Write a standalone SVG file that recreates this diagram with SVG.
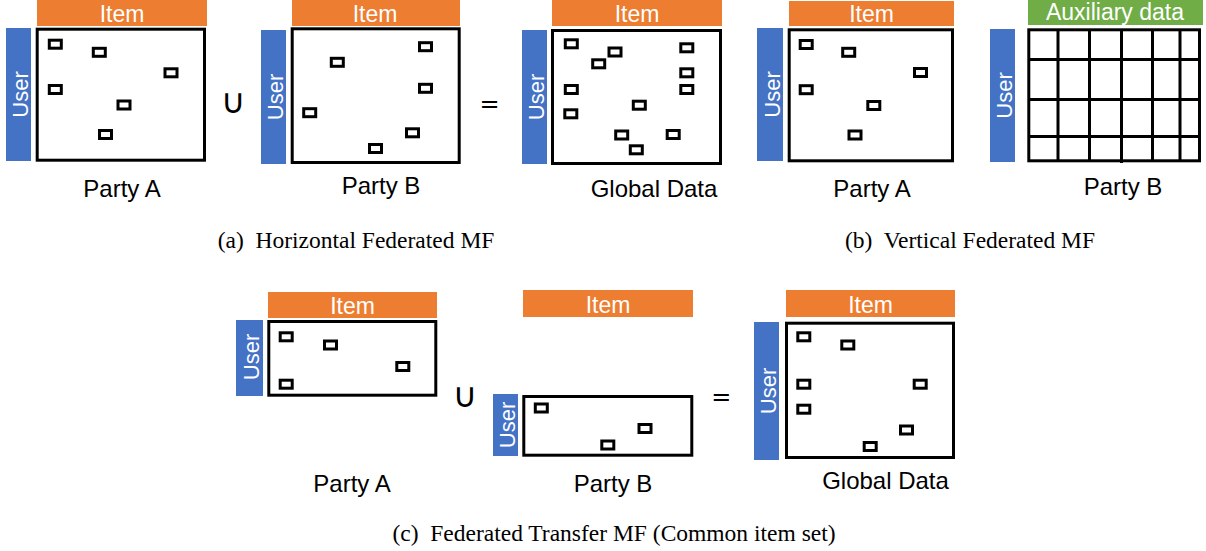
<svg xmlns="http://www.w3.org/2000/svg" width="1206" height="551" viewBox="0 0 1206 551">
<style>
.bg{fill:#ffffff}
.item{fill:#ED7D31}
.aux{fill:#70AD47}
.user{fill:#4472C4}
.box{fill:#ffffff;stroke:#000000;stroke-width:3}
.c{fill:#ffffff;stroke:#000000;stroke-width:3}
.gl{stroke:#000000;stroke-width:3;fill:none}
.wt{font-family:"Liberation Sans",Arial,sans-serif;font-size:23px;fill:#ffffff;text-anchor:middle}
.ut{font-family:"Liberation Sans",Arial,sans-serif;font-size:22px;fill:#ffffff;text-anchor:middle}
.lbl{font-family:"Liberation Sans",Arial,sans-serif;font-size:24px;fill:#000000;text-anchor:middle}
.op{font-family:"DejaVu Sans",sans-serif;font-size:24px;fill:#000000;text-anchor:middle}
.un{font-family:"DejaVu Sans",sans-serif;font-size:34px;fill:#000000;text-anchor:middle}
.cap{font-family:"Liberation Serif","Times New Roman",serif;font-size:23.5px;fill:#000000;text-anchor:middle}
</style>
<defs>
<rect id="cell" width="12" height="8" class="c"/>
</defs>
<rect class="bg" x="0" y="0" width="1206" height="551"/>

<g id="a-partyA">
<rect class="item" x="37" y="0" width="170" height="26"/>
<text class="wt" x="122" y="22">Item</text>
<rect class="user" x="6" y="28" width="25" height="133"/>
<text class="ut" transform="translate(28,94.5) rotate(-90)">User</text>
<rect class="box" x="37.2" y="29.2" width="167.3" height="131"/>
<use href="#cell" x="49.3" y="40.2"/>
<use href="#cell" x="93.3" y="48.3"/>
<use href="#cell" x="165" y="68.8"/>
<use href="#cell" x="49.3" y="85.5"/>
<use href="#cell" x="118" y="101"/>
<use href="#cell" x="99.5" y="130.5"/>
<text class="lbl" x="122" y="197">Party A</text>
</g>

<text class="un" x="233.5" y="113">∪</text>

<g id="a-partyB">
<rect class="item" x="292" y="0" width="168" height="26"/>
<text class="wt" x="375" y="22">Item</text>
<rect class="user" x="261" y="30" width="25" height="134"/>
<text class="ut" transform="translate(283,97) rotate(-90)">User</text>
<rect class="box" x="292.2" y="28.8" width="167" height="133.7"/>
<use href="#cell" x="419.5" y="42.7"/>
<use href="#cell" x="331.3" y="58.3"/>
<use href="#cell" x="419.5" y="84.3"/>
<use href="#cell" x="303.7" y="108.7"/>
<use href="#cell" x="406.5" y="128.8"/>
<use href="#cell" x="369.5" y="144.5"/>
<text class="lbl" x="381" y="194">Party B</text>
</g>

<text class="op" x="489.5" y="112">=</text>

<g id="a-global">
<rect class="item" x="552" y="0" width="170" height="26"/>
<text class="wt" x="637" y="22">Item</text>
<rect class="user" x="522" y="30" width="25" height="134"/>
<text class="ut" transform="translate(544,97) rotate(-90)">User</text>
<rect class="box" x="552.5" y="30.5" width="168" height="133"/>
<use href="#cell" x="565.3" y="39.8"/>
<use href="#cell" x="609" y="48"/>
<use href="#cell" x="592.7" y="59.8"/>
<use href="#cell" x="680.8" y="43.8"/>
<use href="#cell" x="680.8" y="68.8"/>
<use href="#cell" x="680.8" y="85.5"/>
<use href="#cell" x="565.3" y="85.5"/>
<use href="#cell" x="633.3" y="101.2"/>
<use href="#cell" x="564.8" y="109.8"/>
<use href="#cell" x="615.7" y="131"/>
<use href="#cell" x="667.2" y="130.5"/>
<use href="#cell" x="630.3" y="145.8"/>
<text class="lbl" x="654" y="197">Global Data</text>
</g>

<g id="b-partyA">
<rect class="item" x="789" y="1" width="165" height="25"/>
<text class="wt" x="871.5" y="22">Item</text>
<rect class="user" x="757" y="28" width="26" height="133"/>
<text class="ut" transform="translate(780,94.5) rotate(-90)">User</text>
<rect class="box" x="789.2" y="29.8" width="163.3" height="131"/>
<use href="#cell" x="800.2" y="40.5"/>
<use href="#cell" x="842.7" y="48.3"/>
<use href="#cell" x="914.5" y="68.5"/>
<use href="#cell" x="800.2" y="85.7"/>
<use href="#cell" x="867.8" y="101.5"/>
<use href="#cell" x="849" y="131"/>
<text class="lbl" x="872" y="197">Party A</text>
</g>

<g id="b-partyB">
<rect class="aux" x="1028" y="0" width="175" height="25"/>
<text class="wt" x="1115" y="20">Auxiliary data</text>
<rect class="user" x="990" y="29" width="25" height="133"/>
<text class="ut" transform="translate(1012,95.5) rotate(-90)">User</text>
<rect class="box" x="1028.8" y="29.8" width="170.7" height="131"/>
<path class="gl" d="M1058,29.8V160.8M1089.5,29.8V160.8M1121.5,29.8V163M1152.5,29.8V160.8M1180,29.8V160.8M1028.8,59.5H1199.5M1028.8,99.5H1199.5M1028.8,136.5H1199.5"/>
<text class="lbl" x="1123" y="195">Party B</text>
</g>

<g id="c-partyA">
<rect class="item" x="268" y="292" width="169" height="26"/>
<text class="wt" x="352.5" y="314">Item</text>
<rect class="user" x="236" y="320" width="27" height="76"/>
<text class="ut" transform="translate(259,357) rotate(-90)">User</text>
<rect class="box" x="268.8" y="321.5" width="167" height="73.7"/>
<use href="#cell" x="280.2" y="332.8"/>
<use href="#cell" x="324.5" y="341"/>
<use href="#cell" x="396.8" y="362.5"/>
<use href="#cell" x="280.2" y="380.2"/>
<text class="lbl" x="352" y="492">Party A</text>
</g>

<text class="un" x="465.3" y="406.7">∪</text>

<g id="c-partyB">
<rect class="item" x="523" y="290" width="170" height="27"/>
<text class="wt" x="608" y="313">Item</text>
<rect class="user" x="493" y="394" width="25" height="62"/>
<text class="ut" transform="translate(515,425) rotate(-90)">User</text>
<rect class="box" x="523.8" y="396.5" width="168" height="58.7"/>
<use href="#cell" x="535.3" y="404"/>
<use href="#cell" x="639" y="424.5"/>
<use href="#cell" x="601.8" y="441"/>
<text class="lbl" x="613" y="492">Party B</text>
</g>

<text class="op" x="721.3" y="405">=</text>

<g id="c-global">
<rect class="item" x="786" y="290" width="169" height="27"/>
<text class="wt" x="870.5" y="313">Item</text>
<rect class="user" x="754" y="322" width="25" height="138"/>
<text class="ut" transform="translate(776,391) rotate(-90)">User</text>
<rect class="box" x="786.5" y="323.2" width="167" height="134.3"/>
<use href="#cell" x="797.8" y="332.8"/>
<use href="#cell" x="841.8" y="341"/>
<use href="#cell" x="797.8" y="380.2"/>
<use href="#cell" x="914.2" y="380.2"/>
<use href="#cell" x="797.8" y="405.2"/>
<use href="#cell" x="900.5" y="426"/>
<use href="#cell" x="864.2" y="442.5"/>
<text class="lbl" x="885.5" y="489">Global Data</text>
</g>

<g id="connectors"/>

<g id="captions">
<text class="cap" x="356" y="248" xml:space="preserve">(a)  Horizontal Federated MF</text>
<text class="cap" x="970" y="248" xml:space="preserve">(b)  Vertical Federated MF</text>
<text class="cap" x="614" y="541" xml:space="preserve">(c)  Federated Transfer MF (Common item set)</text>
</g>
</svg>
